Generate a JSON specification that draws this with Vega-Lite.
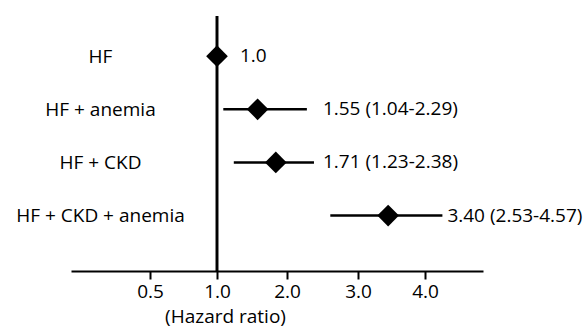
{
  "$schema": "https://vega.github.io/schema/vega-lite/v6.json",
  "width": 412,
  "height": 255,
  "autosize": {"type": "none"},
  "padding": {"left": 71, "top": 16, "right": 103, "bottom": 56},
  "background": "white",
  "config": {"view": {"stroke": null}, "font": "Open Sans"},
  "data": {
    "values": [
      {"group": "HF", "hr": 1.0, "lo": 1.0, "hi": 1.0, "label": "1.0"},
      {"group": "HF + anemia", "hr": 1.58, "lo": 1.09, "hi": 2.28, "label": "1.55 (1.04-2.29)"},
      {"group": "HF + CKD", "hr": 1.84, "lo": 1.24, "hi": 2.38, "label": "1.71 (1.23-2.38)"},
      {"group": "HF + CKD + anemia", "hr": 3.45, "lo": 2.61, "hi": 4.3, "label": "3.40 (2.53-4.57)"}
    ]
  },
  "layer": [
    {
      "mark": {"type": "rule", "color": "black", "strokeWidth": 2.3},
      "encoding": {
        "x": {
          "datum": 1,
          "type": "quantitative",
          "scale": {"domain": [0, 0.5, 1, 2, 3, 4, 4.84], "range": [0, 79, 146, 216, 287, 354, 412]},
          "axis": {
            "values": [0.5, 1, 2, 3, 4],
            "format": ".1f",
            "grid": false,
            "title": "(Hazard ratio)",
            "domainColor": "black",
            "domainWidth": 2,
            "tickColor": "black",
            "tickWidth": 2,
            "tickSize": 8,
            "labelColor": "black",
            "labelFont": "Open Sans",
            "labelFontSize": 19,
            "labelPadding": 3,
            "labelFlush": false,
            "labelOverlap": false,
            "titleFont": "Open Sans",
            "titleFontSize": 19,
            "titleFontWeight": "normal",
            "titleColor": "black",
            "titleX": 154,
            "titleY": 45,
            "titleBaseline": "middle"
          }
        }
      }
    },
    {
      "mark": {"type": "rule", "color": "black", "strokeWidth": 2.5},
      "encoding": {
        "x": {"field": "lo", "type": "quantitative"},
        "x2": {"field": "hi"},
        "y": {
          "field": "group",
          "type": "nominal",
          "sort": null,
          "scale": {"type": "point", "padding": 0.9, "align": 0.42},
          "axis": {
            "title": null,
            "domain": false,
            "ticks": false,
            "tickSize": 0,
            "grid": false,
            "labelAlign": "center",
            "labelBaseline": "middle",
            "labelPadding": -29,
            "labelFont": "Open Sans",
            "labelFontSize": 19,
            "labelColor": "black"
          }
        }
      }
    },
    {
      "mark": {"type": "point", "shape": "diamond", "filled": true, "color": "black", "opacity": 1, "size": 470},
      "encoding": {
        "x": {"field": "hr", "type": "quantitative"},
        "y": {"field": "group", "type": "nominal", "sort": null}
      }
    },
    {
      "transform": [{"filter": "datum.group == 'HF'"}],
      "mark": {"type": "text", "align": "left", "baseline": "middle", "dx": 23, "fontSize": 19, "font": "Open Sans", "color": "black"},
      "encoding": {
        "x": {"field": "hi", "type": "quantitative"},
        "y": {"field": "group", "type": "nominal", "sort": null},
        "text": {"field": "label"}
      }
    },
    {
      "transform": [{"filter": "datum.group == 'HF + anemia'"}],
      "mark": {"type": "text", "align": "left", "baseline": "middle", "dx": 16, "fontSize": 19, "font": "Open Sans", "color": "black"},
      "encoding": {
        "x": {"field": "hi", "type": "quantitative"},
        "y": {"field": "group", "type": "nominal", "sort": null},
        "text": {"field": "label"}
      }
    },
    {
      "transform": [{"filter": "datum.group == 'HF + CKD'"}],
      "mark": {"type": "text", "align": "left", "baseline": "middle", "dx": 9, "fontSize": 19, "font": "Open Sans", "color": "black"},
      "encoding": {
        "x": {"field": "hi", "type": "quantitative"},
        "y": {"field": "group", "type": "nominal", "sort": null},
        "text": {"field": "label"}
      }
    },
    {
      "transform": [{"filter": "datum.group == 'HF + CKD + anemia'"}],
      "mark": {"type": "text", "align": "left", "baseline": "middle", "dx": 5, "fontSize": 19, "font": "Open Sans", "color": "black"},
      "encoding": {
        "x": {"field": "hi", "type": "quantitative"},
        "y": {"field": "group", "type": "nominal", "sort": null},
        "text": {"field": "label"}
      }
    }
  ]
}
